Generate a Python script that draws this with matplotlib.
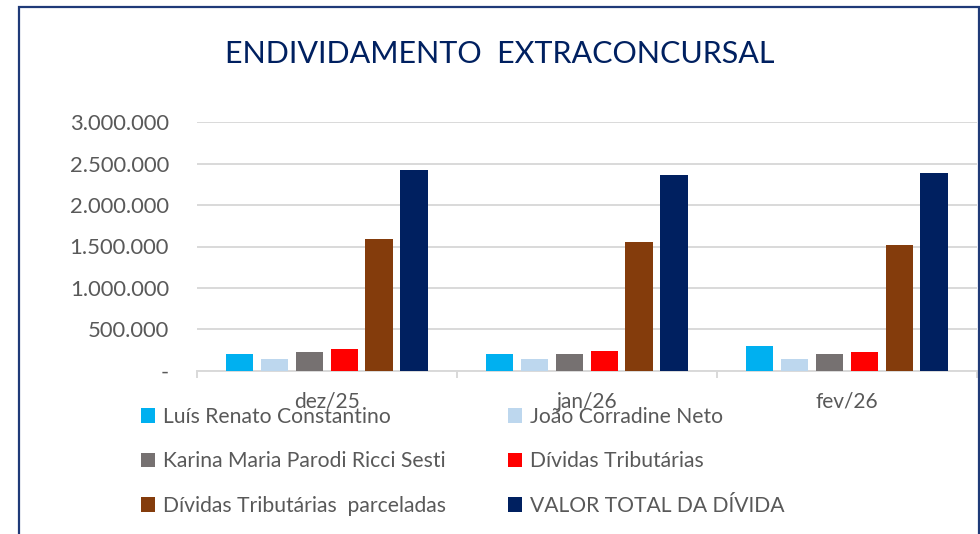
import matplotlib
matplotlib.use('Agg')
import matplotlib.pyplot as plt
from matplotlib.patches import Rectangle
from matplotlib.ticker import FuncFormatter

# data
months = ['dez/25', 'jan/26', 'fev/26']
series_names = [
    'Luís Renato Constantino',
    'João Corradine Neto',
    'Karina Maria Parodi Ricci Sesti',
    'Dívidas Tributárias',
    'Dívidas Tributárias  parceladas',
    'VALOR TOTAL DA DÍVIDA',
]
luis = [201000, 201000, 298000]
joao = [141000, 141000, 141000]
karina = [222000, 201000, 201000]
tributarias = [262000, 242000, 222000]
parceladas = [1594000, 1554000, 1514000]
total = [2424000, 2367000, 2388000]
colors = ['#00B0F0', '#BDD7EE', '#767171', '#FF0000', '#843C0C', '#002060']
yticks = [0, 500000, 1000000, 1500000, 2000000, 2500000, 3000000]

plt.rcParams['font.family'] = ['Lato', 'DejaVu Sans']
TXT = '#595959'
W, H = 980, 534

fig = plt.figure(figsize=(W / 100, H / 100), dpi=100)

# chart border (bottom edge falls outside the picture)
fig.patches.append(Rectangle((19 / W, -0.2), (979 - 19) / W, 1.2 - 7 / H,
                             transform=fig.transFigure, fill=False,
                             edgecolor='#1F3A78', linewidth=1.6))

ax = fig.add_axes([196.7 / W, 1 - 370.7 / H, (977 - 196.7) / W, (370.7 - 122.3) / H])

values = [luis, joao, karina, tributarias, parceladas, total]
slot = 0.134
bw = 0.105
x = list(range(len(months)))
bars = []
for i, (vals, name, c) in enumerate(zip(values, series_names, colors)):
    off = (i - 2.5) * slot
    b = ax.bar([xi + off for xi in x], vals, width=bw, color=c, label=name, zorder=3)
    bars.append(b)

ax.set_xlim(-0.5, 2.5)
ax.set_ylim(0, 3000000)
ax.set_yticks(yticks)
ax.yaxis.set_major_formatter(FuncFormatter(
    lambda v, p: '-' if v == 0 else f'{int(v):,}'.replace(',', '.')))
ax.tick_params(axis='y', length=0, pad=20, labelsize=15.8, labelcolor=TXT)
ax.grid(axis='y', color='#D9D9D9', linewidth=1.4, zorder=0)

ax.set_xticks([-0.5, 0.5, 1.5, 2.5])
ax.set_xticklabels([])
ax.set_xticks(x, minor=True)
ax.set_xticklabels(months, minor=True)
ax.tick_params(axis='x', which='major', length=5, width=1.4, color='#D9D9D9')
ax.tick_params(axis='x', which='minor', length=0, pad=15, labelsize=15, labelcolor=TXT)

for s in ['top', 'right', 'left']:
    ax.spines[s].set_visible(False)
ax.spines['bottom'].set_color('#D9D9D9')
ax.spines['bottom'].set_linewidth(1.4)

fig.text(500 / W, 1 - 62.7 / H, 'ENDIVIDAMENTO  EXTRACONCURSAL', ha='center',
         va='baseline', fontsize=22, color='#002060')

# legend: two columns, three rows
fs = 15.2
hl = 14 / (fs * 100 / 72)
common = dict(frameon=False, fontsize=fs, labelcolor=TXT, handlelength=hl,
              handleheight=hl, handletextpad=0.36, labelspacing=1.16,
              borderpad=0, borderaxespad=0)
leg1 = fig.legend([bars[0], bars[2], bars[4]], [series_names[0], series_names[2], series_names[4]],
                  loc='upper left', bbox_to_anchor=(141 / W, 1 - 407 / H), **common)
leg2 = fig.legend([bars[1], bars[3], bars[5]], [series_names[1], series_names[3], series_names[5]],
                  loc='upper left', bbox_to_anchor=(508.3 / W, 1 - 407 / H), **common)

fig.savefig('out.png', dpi=100, facecolor='white')
